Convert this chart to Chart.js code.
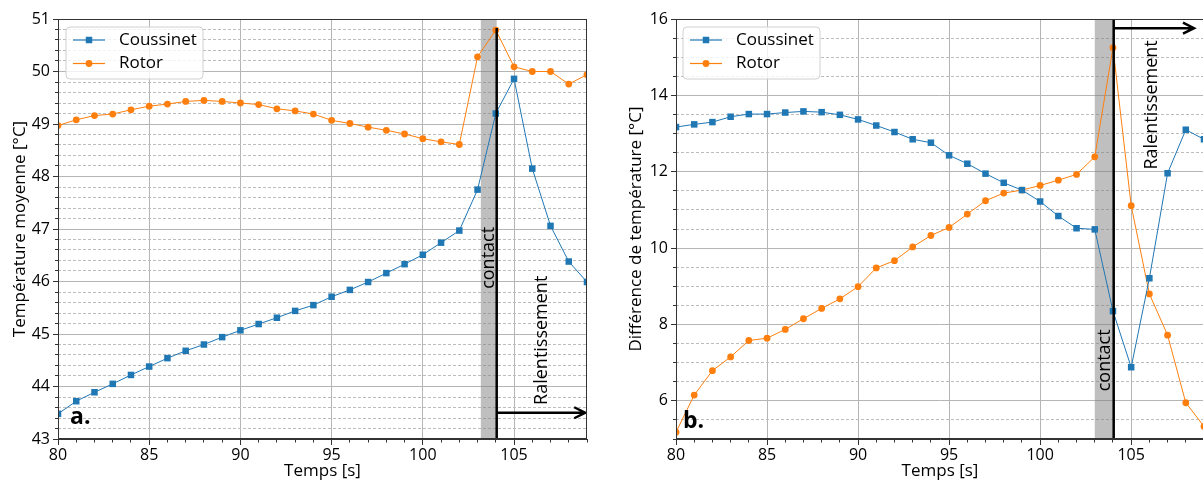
<!DOCTYPE html>
<html>
<head>
<meta charset="utf-8">
<script src="https://cdn.jsdelivr.net/npm/chart.js@4.4.1/dist/chart.umd.min.js"></script>
<style>
  html, body { margin: 0; padding: 0; background: #fff; overflow: hidden; }
  #wrap { position: relative; width: 1203px; height: 481px; overflow: hidden; }
  canvas { position: absolute; top: 0; }
</style>
</head>
<body>
<div id="wrap">
  <canvas id="chartA" width="600" height="481" style="left:0"></canvas>
  <canvas id="chartB" width="600" height="481" style="left:610px"></canvas>
</div>
<script>
// time axis (s)
var seconds = [80,81,82,83,84,85,86,87,88,89,90,91,92,93,94,95,96,97,98,99,100,101,102,103,104,105,106,107,108,109];

// a. mean temperature [°C]
var coussinetA = [43.48,43.72,43.89,44.05,44.22,44.38,44.54,44.68,44.80,44.94,45.07,45.19,45.31,45.44,45.55,45.71,45.84,45.99,46.16,46.33,46.51,46.74,46.97,47.75,49.20,49.86,48.15,47.06,46.38,45.99];
var rotorA = [48.97,49.08,49.16,49.19,49.27,49.34,49.38,49.43,49.45,49.43,49.40,49.37,49.29,49.25,49.19,49.07,49.01,48.94,48.88,48.81,48.72,48.66,48.61,50.28,50.79,50.09,50.00,50.00,49.76,49.94];

// b. temperature difference [°C]
var coussinetB = [13.17,13.24,13.30,13.44,13.51,13.51,13.55,13.58,13.56,13.49,13.37,13.21,13.04,12.85,12.76,12.43,12.21,11.95,11.71,11.52,11.22,10.84,10.52,10.49,8.35,6.88,9.21,11.96,13.10,12.85];
var rotorB = [5.18,6.15,6.79,7.15,7.58,7.64,7.87,8.15,8.42,8.67,8.99,9.48,9.67,10.03,10.33,10.54,10.89,11.24,11.44,11.52,11.64,11.78,11.93,12.39,15.25,11.11,8.80,7.72,5.95,5.33];

var seriesNames = ['Coussinet', 'Rotor'];
var xTitle = 'Temps [s]';

var FONT = "'Open Sans', sans-serif";
Chart.defaults.font.family = FONT;
Chart.defaults.color = '#000';

function points(ys) {
  return seconds.map(function (s, i) { return { x: s, y: ys[i] }; });
}

// shaded contact band, stop line, arrow, rotated notes, panel letter, frame and legend
var panelDecor = {
  id: 'panelDecor',
  beforeDatasetsDraw: function (chart, args, o) {
    var ctx = chart.ctx, a = chart.chartArea, x = chart.scales.x;
    ctx.save();
    ctx.fillStyle = 'rgba(128,128,128,0.5)';
    var x0 = x.getPixelForValue(o.band[0]), x1 = x.getPixelForValue(o.band[1]);
    ctx.fillRect(x0, a.top, x1 - x0, a.bottom - a.top);
    ctx.restore();
  },
  afterDatasetsDraw: function (chart, args, o) {
    var ctx = chart.ctx, a = chart.chartArea, x = chart.scales.x, y = chart.scales.y;
    ctx.save();
    ctx.beginPath();
    ctx.rect(a.left, a.top, a.right - a.left, a.bottom - a.top);
    ctx.clip();

    // stop line
    ctx.strokeStyle = '#000';
    ctx.lineWidth = 2.5;
    var lx = x.getPixelForValue(o.line.x);
    ctx.beginPath();
    ctx.moveTo(lx, y.getPixelForValue(o.line.y0));
    ctx.lineTo(lx, y.getPixelForValue(o.line.y1));
    ctx.stroke();

    // arrow
    var ax0 = x.getPixelForValue(o.arrow.x0), ax1 = x.getPixelForValue(o.arrow.x1), ay = y.getPixelForValue(o.arrow.y);
    ctx.beginPath();
    ctx.moveTo(ax0, ay);
    ctx.lineTo(ax1, ay);
    ctx.moveTo(ax1 - 11, ay - 5.5);
    ctx.lineTo(ax1, ay);
    ctx.lineTo(ax1 - 11, ay + 5.5);
    ctx.stroke();

    // rotated notes
    ctx.fillStyle = '#000';
    ctx.font = '18px ' + FONT;
    ctx.textAlign = 'center';
    ctx.textBaseline = 'middle';
    o.notes.forEach(function (n) {
      ctx.save();
      ctx.translate(x.getPixelForValue(n.x), y.getPixelForValue(n.y));
      ctx.rotate(-Math.PI / 2);
      ctx.fillText(n.text, 0, 0);
      ctx.restore();
    });

    // panel letter
    ctx.font = 'bold 23px ' + FONT;
    ctx.textAlign = 'left';
    ctx.textBaseline = 'alphabetic';
    ctx.fillText(o.letter.text, a.left + o.letter.dx, a.bottom - o.letter.dy);
    ctx.restore();

    // frame
    ctx.save();
    ctx.strokeStyle = '#333';
    ctx.lineWidth = 1;
    ctx.strokeRect(Math.round(a.left) + 0.5, Math.round(a.top) + 0.5, Math.round(a.right - a.left) - 1, Math.round(a.bottom - a.top) - 1);

    // legend
    var bx = a.left + o.legend.dx, by = a.top + 8, bw = 137, bh = 52, r = 4;
    ctx.beginPath();
    ctx.moveTo(bx + r, by);
    ctx.arcTo(bx + bw, by, bx + bw, by + bh, r);
    ctx.arcTo(bx + bw, by + bh, bx, by + bh, r);
    ctx.arcTo(bx, by + bh, bx, by, r);
    ctx.arcTo(bx, by, bx + bw, by, r);
    ctx.closePath();
    ctx.fillStyle = 'rgba(255,255,255,0.8)';
    ctx.fill();
    ctx.strokeStyle = '#d0d0d0';
    ctx.stroke();
    ctx.font = '17px ' + FONT;
    ctx.textBaseline = 'middle';
    ctx.textAlign = 'left';
    chart.data.datasets.forEach(function (ds, i) {
      var ry = a.top + 21 + i * 23.5;
      var l0 = bx + 7, l1 = bx + 39, mx = (l0 + l1) / 2;
      ctx.strokeStyle = ds.borderColor;
      ctx.lineWidth = 1.2;
      ctx.beginPath();
      ctx.moveTo(l0, ry);
      ctx.lineTo(l1, ry);
      ctx.stroke();
      ctx.fillStyle = ds.backgroundColor;
      ctx.beginPath();
      if (ds.pointStyle === 'rect') {
        var h = ds.pointRadius * Math.SQRT1_2;
        ctx.rect(mx - h, ry - h, 2 * h, 2 * h);
      } else {
        ctx.arc(mx, ry, ds.pointRadius, 0, Math.PI * 2);
      }
      ctx.fill();
      ctx.fillStyle = '#000';
      ctx.fillText(ds.label, bx + 53, ry);
    });
    ctx.restore();
  }
};

function isMajor(v, step) {
  return Math.abs(v / step - Math.round(v / step)) < 1e-6;
}

function makePanel(id, p) {
  return new Chart(document.getElementById(id), {
    type: 'line',
    data: {
      datasets: [
        {
          label: seriesNames[0],
          data: points(p.coussinet),
          borderColor: '#1f77b4',
          backgroundColor: '#1f77b4',
          borderWidth: 1,
          pointStyle: 'rect',
          pointRadius: 4.6,
          pointBorderWidth: 0,
          clip: 0
        },
        {
          label: seriesNames[1],
          data: points(p.rotor),
          borderColor: '#ff7f0e',
          backgroundColor: '#ff7f0e',
          borderWidth: 1,
          pointStyle: 'circle',
          pointRadius: 3.4,
          pointBorderWidth: 0,
          clip: 0
        }
      ]
    },
    options: {
      responsive: false,
      animation: false,
      events: [],
      layout: { padding: { left: 0, right: p.padRight, top: 19, bottom: 0 } },
      scales: {
        x: {
          type: 'linear', position: 'bottom', min: 80, max: 109, weight: 1,
          ticks: { stepSize: 5, includeBounds: false, font: { size: 16 }, padding: 1, maxRotation: 0 },
          grid: { color: '#b5b5b5', lineWidth: 1, tickColor: '#333', tickLength: 6 },
          border: { color: '#333' },
          title: { display: true, text: xTitle, font: { size: 17 }, padding: { top: 0, bottom: 0 } },
          afterFit: function (s) { s.height = 42; }
        },
        xMinor: {
          type: 'linear', position: 'bottom', min: 80, max: 109, weight: 0,
          ticks: { display: false, stepSize: 1, maxTicksLimit: 100 },
          grid: { drawOnChartArea: false, tickColor: '#333', tickLength: 3.5 },
          border: { display: false },
          afterFit: function (s) { s.height = 0; }
        },
        y: {
          type: 'linear', position: 'left', min: p.yMin, max: p.yMax, weight: 1,
          ticks: { stepSize: p.yStep, includeBounds: false, font: { size: 16 }, padding: 3 },
          grid: { color: '#b5b5b5', lineWidth: 1, tickColor: '#333', tickLength: 5 },
          border: { color: '#333' },
          title: { display: true, text: p.yTitle, font: { size: 17 }, padding: { top: p.titlePad, bottom: 0 } },
          afterFit: function (s) { s.width = p.yWidth; }
        },
        yMinor: {
          type: 'linear', position: 'left', min: p.yMin, max: p.yMax, weight: 0,
          ticks: { display: false, stepSize: p.yMinorStep, maxTicksLimit: 100 },
          grid: {
            color: function (c) { return isMajor(c.tick.value, p.yStep) ? 'rgba(0,0,0,0)' : '#bdbdbd'; },
            tickColor: function (c) { return isMajor(c.tick.value, p.yStep) ? 'rgba(0,0,0,0)' : '#333'; },
            lineWidth: 1,
            tickLength: 3
          },
          border: { display: false, dash: [3, 2] },
          afterFit: function (s) { s.width = 0; }
        }
      },
      plugins: {
        legend: { display: false },
        tooltip: { enabled: false },
        panelDecor: p.decor
      }
    },
    plugins: [panelDecor]
  });
}

makePanel('chartA', {
  coussinet: coussinetA, rotor: rotorA,
  yMin: 43, yMax: 51, yStep: 1, yMinorStep: 0.2,
  yTitle: 'Température moyenne [°C]', titlePad: 10, yWidth: 58, padRight: 13,
  decor: {
    band: [103.18, 104.05],
    line: { x: 104.05, y0: 43, y1: 50.83 },
    arrow: { x0: 104.05, x1: 108.9, y: 43.5 },
    notes: [{ text: 'contact', x: 103.6, y: 46.45 }, { text: 'Ralentissement', x: 106.5, y: 44.88 }],
    letter: { text: 'a.', dx: 12, dy: 15 },
    legend: { dx: 8 }
  }
});

makePanel('chartB', {
  coussinet: coussinetB, rotor: rotorB,
  yMin: 5, yMax: 16, yStep: 2, yMinorStep: 0.5,
  yTitle: 'Différence de température [°C]', titlePad: 16, yWidth: 66, padRight: 6,
  decor: {
    band: [103.0, 104.04],
    line: { x: 104.04, y0: 5, y1: 16 },
    arrow: { x0: 104.04, x1: 108.45, y: 15.76 },
    notes: [{ text: 'contact', x: 103.53, y: 7.06 }, { text: 'Ralentissement', x: 106.15, y: 13.75 }],
    letter: { text: 'b.', dx: 7, dy: 11 },
    legend: { dx: 7 }
  }
});
</script>
</body>
</html>
